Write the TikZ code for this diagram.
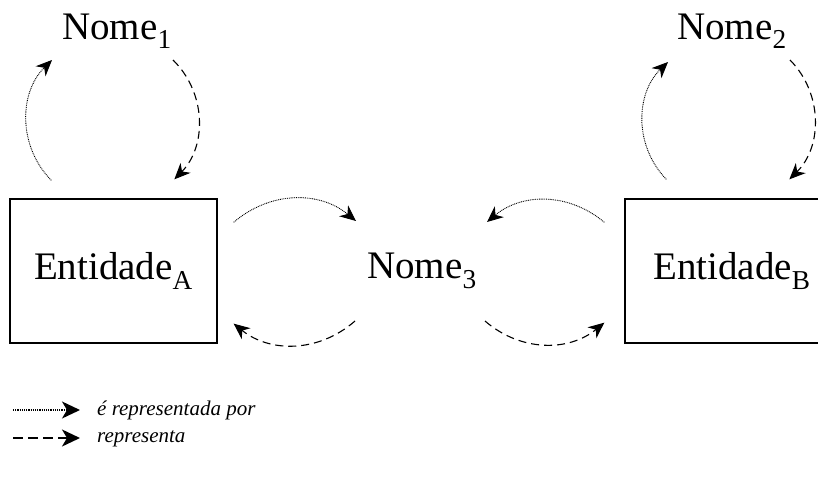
\documentclass[tikz,border=0pt]{standalone}
\usepackage{fontspec}
\setmainfont{Liberation Serif}
\usetikzlibrary{arrows.meta,positioning}

\begin{document}
\begin{tikzpicture}[x=1pt, y=-1pt,
    every node/.style={inner sep=0pt},
    entitybox/.style={draw, line width=1.3pt, minimum width=207pt, minimum height=144pt, font=\fontsize{39}{44}\selectfont},
    nomelabel/.style={font=\fontsize{39}{44}\selectfont},
    legendtext/.style={anchor=west, font=\fontsize{21}{25}\selectfont\itshape},
    isrep/.style={-{Stealth[length=16pt,width=14pt,inset=5pt]}, line width=0.9pt, dash pattern=on 0.9pt off 0.9pt},
    rep/.style={-{Stealth[length=16pt,width=14pt,inset=5pt]}, line width=1.1pt, dash pattern=on 8pt off 5pt},
    legendline/.style={line width=1.8pt, shorten >=17pt}
]
    \useasboundingbox (0,0) rectangle (818,481);

    \node (entidade_a) [entitybox, shift={(113.5, 271)}]
    {
        Entidade\textsubscript{A}
    };
    \node (entidade_b) [entitybox, shift={(728.5, 271)}]
    {
        \hspace*{7pt}Entidade\textsubscript{B}
    };

    \node (nome_1) [nomelabel, shift={(117, 31)}]
    {
        Nome\textsubscript{1}
    };
    \node (nome_2) [nomelabel, shift={(732, 31)}]
    {
        Nome\textsubscript{2}
    };
    \node (nome_3) [nomelabel, shift={(422, 271)}]
    {
        Nome\textsubscript{3}
    };

    % legenda
    \coordinate (leg_isrep) at (13, 410);
    \coordinate (leg_rep) at (13, 438);
    \node (leg_isrep_text) [legendtext, shift={(97, 410)}]
    {
        é representada por
    };
    \node (leg_rep_text) [legendtext, shift={(97, 439)}]
    {
        representa
    };

    \draw[legendline, -{Stealth[length=18pt,width=17pt,inset=5pt]}, dash pattern=on 1.2pt off 1pt, line width=1.4pt] (leg_isrep) to (leg_isrep_text.west);
    \draw[legendline, -{Stealth[length=18pt,width=17pt,inset=5pt]}, dash pattern=on 10pt off 5pt] (leg_rep) to (leg_rep_text.west |- leg_rep);

    \draw[isrep] ([shift={(42,-18)}]entidade_a.north west) to[bend left=45] ([shift={(-65,29)}]nome_1.center);
    \draw[rep] ([shift={(56,29)}]nome_1.center) to[bend left=45] ([shift={(165,-19)}]entidade_a.north west);
    \draw[isrep] ([shift={(42,-19)}]entidade_b.north west) to[bend left=45] ([shift={(-64,31)}]nome_2.center);
    \draw[rep] ([shift={(58,29)}]nome_2.center) to[bend left=45] ([shift={(165,-19)}]entidade_b.north west);

    \draw[isrep] ([shift={(16,24)}]entidade_a.north east) to[bend left=40] ([shift={(-66,-50)}]nome_3.center);
    \draw[rep] ([shift={(-67,50)}]nome_3.center) to[bend left=40] ([shift={(16,-20)}]entidade_a.south east);
    \draw[isrep] ([shift={(-20,24)}]entidade_b.north west) to[bend right=40] ([shift={(65,-49)}]nome_3.center);
    \draw[rep] ([shift={(63,50)}]nome_3.center) to[bend right=40] ([shift={(-20,-21)}]entidade_b.south west);

\end{tikzpicture}
\end{document}
